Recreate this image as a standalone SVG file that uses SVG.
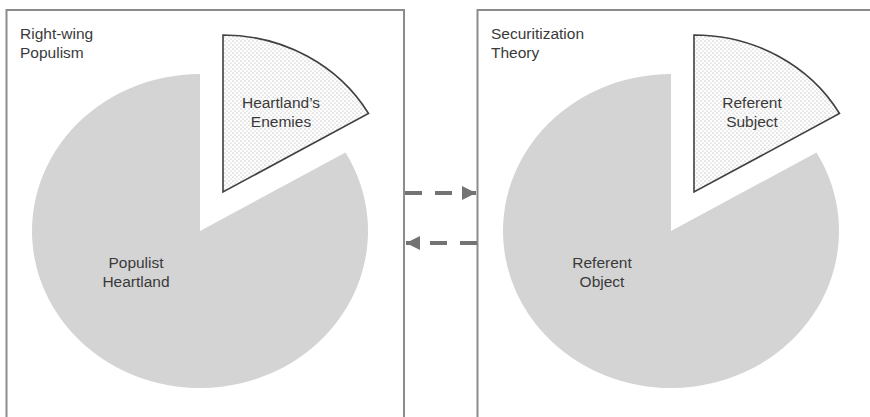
<svg xmlns="http://www.w3.org/2000/svg" width="870" height="417" viewBox="0 0 870 417">
  <style>
    .frame { fill: #ffffff; stroke: #8c8c8c; stroke-width: 2; }
    .pie { fill: #d4d4d4; stroke: none; }
    .slice { fill: url(#dots); stroke: #404040; stroke-width: 1.6; stroke-linejoin: miter; }
    .title { font-family: "Liberation Sans", Arial, sans-serif; font-size: 15.5px; fill: #3a3a3a; }
    .label { font-family: "Liberation Sans", Arial, sans-serif; font-size: 15.5px; fill: #3a3a3a; text-anchor: middle; }
    .link { stroke: #737373; stroke-width: 4; stroke-dasharray: 17 13; fill: none; }
  </style>
  <defs>
    <pattern id="dots" width="4" height="4" patternUnits="userSpaceOnUse">
      <rect width="4" height="4" fill="#ffffff"/>
      <circle cx="1" cy="1" r="0.6" fill="#9a9a9a"/>
      <circle cx="3" cy="3" r="0.6" fill="#b0b0b0"/>
    </pattern>
    <marker id="head" markerUnits="userSpaceOnUse" markerWidth="16" markerHeight="16" viewBox="0 0 16 16" refX="14" refY="8" orient="auto">
      <path d="M0,1 L14,8 L0,15 Z" fill="#737373"/>
    </marker>
  </defs>

  <!-- Right-wing populism panel -->
  <g id="populism">
    <rect class="frame" x="6.5" y="10" width="397.5" height="420"/>
    <text class="title" x="20" y="39">Right-wing</text>
    <text class="title" x="20" y="58">Populism</text>
    <g id="heartland">
      <path class="pie" d="M200,231 L200,74 A168,157 0 1,0 345.5,152.5 Z"/>
      <text class="label" x="136" y="268">Populist</text>
      <text class="label" x="136" y="287">Heartland</text>
    </g>
    <g id="enemies">
      <path class="slice" d="M223,192 L223,35 A168,157 0 0,1 368.5,113.5 Z"/>
      <text class="label" x="281" y="108">Heartland’s</text>
      <text class="label" x="281" y="127">Enemies</text>
    </g>
  </g>

  <!-- Securitization theory panel -->
  <g id="securitization">
    <rect class="frame" x="477.5" y="10" width="400" height="420"/>
    <text class="title" x="491" y="39">Securitization</text>
    <text class="title" x="491" y="58">Theory</text>
    <g id="referent-object">
      <path class="pie" d="M671,231 L671,74 A168,157 0 1,0 816.5,152.5 Z"/>
      <text class="label" x="602" y="268">Referent</text>
      <text class="label" x="602" y="287">Object</text>
    </g>
    <g id="referent-subject">
      <path class="slice" d="M694,192 L694,35 A168,157 0 0,1 839.5,113.5 Z"/>
      <text class="label" x="752" y="108">Referent</text>
      <text class="label" x="752" y="127">Subject</text>
    </g>
  </g>

  <!-- dashed links between the panels -->
  <g id="connectors">
    <line class="link" x1="405" y1="193" x2="476" y2="193" marker-end="url(#head)" stroke-dasharray="17 13 17 10 0 100"/>
    <line class="link" x1="477" y1="243" x2="406" y2="243" marker-end="url(#head)" stroke-dasharray="17 14 18 10 0 100"/>
  </g>
</svg>
